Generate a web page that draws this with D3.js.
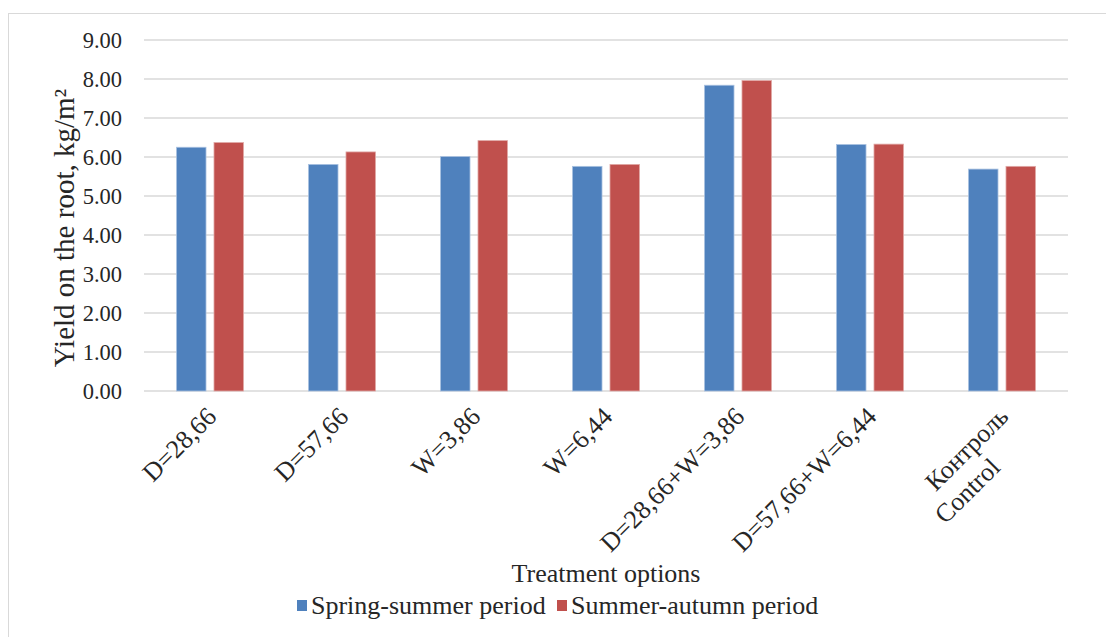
<!DOCTYPE html>
<html>
<head>
<meta charset="utf-8">
<script src="https://cdn.jsdelivr.net/npm/d3@7"></script>
<style>
  html, body { margin: 0; padding: 0; background: #fff; }
  svg { display: block; font-family: "Liberation Serif", "Times New Roman", serif; }
</style>
</head>
<body>
<svg id="chart" width="1106" height="637"></svg>
<script>
// Treatment options (category axis); the control label has two lines
const categories = ["D=28,66", "D=57,66", "W=3,86", "W=6,44", "D=28,66+W=3,86", "D=57,66+W=6,44", "Контроль\nControl"];
const seriesNames = ["Spring-summer period", "Summer-autumn period"];
const springSummer = [6.25, 5.81, 6.01, 5.76, 7.84, 6.32, 5.69];
const summerAutumn = [6.37, 6.13, 6.42, 5.81, 7.96, 6.33, 5.76];
const yTicks = [0, 1, 2, 3, 4, 5, 6, 7, 8, 9];
const colors = ["#4f81bd", "#c0504d"];
const strokes = ["#a9c1e0", "#e0a8a6"];

const svg = d3.select("#chart");
const plot = { left: 144, right: 1068, top: 40, bottom: 391 };
const serif = "Liberation Serif, Times New Roman, serif";

// chart area frame
svg.append("rect")
  .attr("x", 8.5).attr("y", 13.5)
  .attr("width", 1120).attr("height", 640)
  .attr("fill", "#fff").attr("stroke", "#d9d9d9").attr("stroke-width", 1);

const y = d3.scaleLinear().domain([0, 9]).range([plot.bottom, plot.top]);
const x0 = d3.scaleBand().domain(categories).range([plot.left, plot.right]).paddingInner(0).paddingOuter(0);
const x1 = d3.scaleBand().domain(seriesNames).range([-33.5, 33.5]).paddingInner(0.213).paddingOuter(0);

// horizontal gridlines
svg.append("g").selectAll("line").data(yTicks).join("line")
  .attr("x1", plot.left).attr("x2", plot.right)
  .attr("y1", d => y(d)).attr("y2", d => y(d))
  .attr("stroke", "#d9d9d9").attr("stroke-width", 1.5);

// y axis tick labels
const yAxis = d3.axisLeft(y).tickValues(yTicks).tickFormat(d3.format(".2f")).tickSize(0).tickPadding(22);
const gy = svg.append("g").attr("transform", `translate(${plot.left},0)`).call(yAxis);
gy.select(".domain").remove();
gy.selectAll("text")
  .attr("font-family", serif)
  .attr("font-size", 22.5).attr("fill", "#262626");

// bars
const rows = categories.map((c, i) => ({ cat: c, vals: [springSummer[i], summerAutumn[i]] }));
const groups = svg.append("g").selectAll("g").data(rows).join("g")
  .attr("transform", d => `translate(${x0(d.cat) + x0.bandwidth() / 2},0)`);
groups.selectAll("rect")
  .data(d => d.vals.map((v, k) => ({ v, k })))
  .join("rect")
  .attr("x", d => x1(seriesNames[d.k]))
  .attr("width", x1.bandwidth())
  .attr("y", d => y(d.v))
  .attr("height", d => y(0) - y(d.v))
  .attr("fill", d => colors[d.k])
  .attr("stroke", d => strokes[d.k])
  .attr("stroke-width", 0.8);

// category labels, rotated
const lbl = svg.append("g").selectAll("g").data(categories).join("g")
  .attr("transform", d => `translate(${x0(d) + x0.bandwidth() / 2 + 8},418) rotate(-45)`);
lbl.each(function(d) {
  const lines = d.split("\n");
  const t = d3.select(this).append("text")
    .attr("text-anchor", "end")
    .attr("font-family", serif)
    .attr("font-size", 26).attr("fill", "#262626");
  lines.forEach((ln, i) => {
    t.append("tspan").attr("x", i === 0 ? 0 : -42).attr("y", i * 30).text(ln);
  });
});

// axis titles
svg.append("text")
  .attr("transform", `translate(74,228) rotate(-90)`)
  .attr("text-anchor", "middle").attr("font-family", serif)
  .attr("font-size", 29).attr("fill", "#262626")
  .text("Yield on the root, kg/m²");

svg.append("text")
  .attr("x", 606).attr("y", 582)
  .attr("text-anchor", "middle").attr("font-family", serif)
  .attr("font-size", 26).attr("fill", "#262626")
  .text("Treatment options");

// legend
const legend = svg.append("g").attr("transform", "translate(0,614)");
const legendX = [297, 557];
seriesNames.forEach((name, k) => {
  const g = legend.append("g").attr("transform", `translate(${legendX[k]},0)`);
  g.append("rect").attr("x", 0).attr("y", -14).attr("width", 10).attr("height", 11).attr("fill", colors[k]);
  g.append("text").attr("x", 14).attr("y", 0).attr("font-family", serif)
    .attr("font-size", 26).attr("fill", "#262626").text(name);
});
</script>
</body>
</html>
